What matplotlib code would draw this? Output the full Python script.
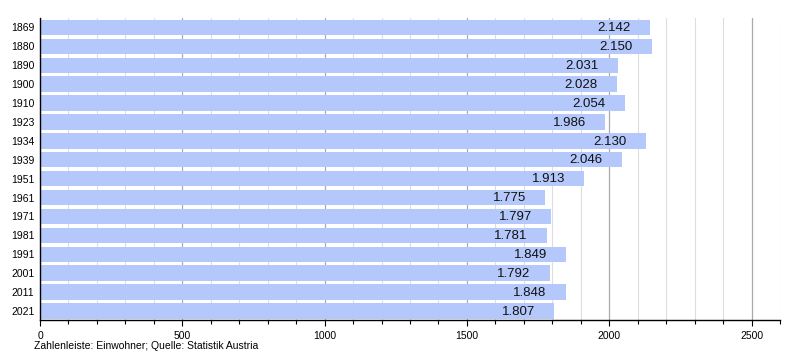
import matplotlib.pyplot as plt
from matplotlib.ticker import MultipleLocator

# Einwohner by census year
years = ['1869', '1880', '1890', '1900', '1910', '1923', '1934', '1939',
         '1951', '1961', '1971', '1981', '1991', '2001', '2011', '2021']
population = [2142, 2150, 2031, 2028, 2054, 1986, 2130, 2046,
              1913, 1775, 1797, 1781, 1849, 1792, 1848, 1807]
labels = ['2.142', '2.150', '2.031', '2.028', '2.054', '1.986', '2.130', '2.046',
          '1.913', '1.775', '1.797', '1.781', '1.849', '1.792', '1.848', '1.807']

plt.rcParams['font.family'] = ['Liberation Sans', 'DejaVu Sans']

fig = plt.figure(figsize=(8, 3.6), dpi=100)
ax = fig.add_axes([0.05, 0.11, 0.925, 0.84])

pos = list(range(len(years)))
ax.barh(pos, population, height=0.82, color='#b4c8fc', zorder=2)
for p, v, lab in zip(pos, population, labels):
    ax.annotate(lab, (v, p), xytext=(-14, -0.5), textcoords='offset points',
                ha='right', va='center', fontsize=9.5, color='#111111', zorder=3)

ax.set_ylim(len(years) - 0.5, -0.5)
ax.set_yticks(pos)
ax.set_yticklabels(years, fontsize=7.5)
ax.tick_params(axis='y', length=0, pad=4)

ax.set_xlim(0, 2600)
ax.xaxis.set_major_locator(MultipleLocator(500))
ax.xaxis.set_minor_locator(MultipleLocator(100))
ax.tick_params(axis='x', which='major', length=4, labelsize=7.5, width=0.8)
ax.tick_params(axis='x', which='minor', length=3, width=0.8)
ax.grid(axis='x', which='major', color='#aaaaaa', linewidth=0.9, zorder=0)
ax.grid(axis='x', which='minor', color='#dddddd', linewidth=0.8, zorder=0)
ax.set_axisbelow(True)

for s in ['top', 'right']:
    ax.spines[s].set_visible(False)
ax.spines['left'].set_linewidth(1.0)
ax.spines['bottom'].set_linewidth(1.0)

fig.text(0.043, 0.03, 'Zahlenleiste: Einwohner; Quelle: Statistik Austria', fontsize=7.5)

plt.savefig('out.png', dpi=100)
